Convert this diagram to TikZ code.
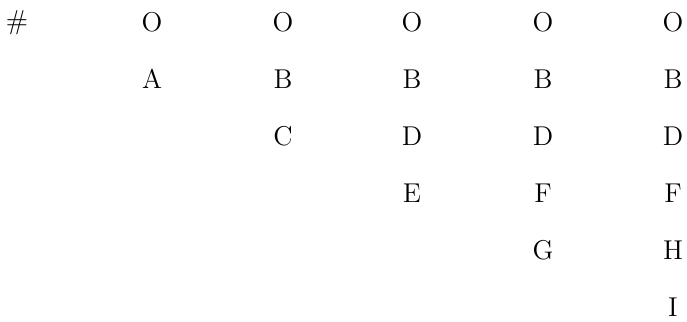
\documentclass[tikz,border=0pt]{standalone}
\usepackage{tikz}
\usetikzlibrary{positioning}

\begin{document}
\begin{tikzpicture}[
      x=0.5pt, y=-0.5pt,
      on grid, node distance=28.5pt,
      sym/.style={inner sep=0pt, font=\fontsize{13.6}{16}\selectfont},
    ]
    \useasboundingbox (0,0) rectangle (687,322);
    % top row
    \node[sym] (hash) at (17,23) {\#};
    \node[sym] (o1) at (152,22) {O};
    \node[sym] (o2) at (283,22) {O};
    \node[sym] (o3) at (412,22) {O};
    \node[sym] (o4) at (543,22) {O};
    \node[sym] (o5) at (673,22) {O};
    % column 1
    \node[sym, below=of o1] (a1) {A};
    % column 2
    \node[sym, below=of o2] (b2) {B};
    \node[sym, below=of b2] (c2) {C};
    % column 3
    \node[sym, below=of o3] (b3) {B};
    \node[sym, below=of b3] (d3) {D};
    \node[sym, below=of d3] (e3) {E};
    % column 4
    \node[sym, below=of o4] (b4) {B};
    \node[sym, below=of b4] (d4) {D};
    \node[sym, below=of d4] (f4) {F};
    \node[sym, below=of f4] (g4) {G};
    % column 5
    \node[sym, below=of o5] (b5) {B};
    \node[sym, below=of b5] (d5) {D};
    \node[sym, below=of d5] (f5) {F};
    \node[sym, below=of f5] (h5) {H};
    \node[sym, below=of h5] (i5) {I};
  \end{tikzpicture}
\end{document}
